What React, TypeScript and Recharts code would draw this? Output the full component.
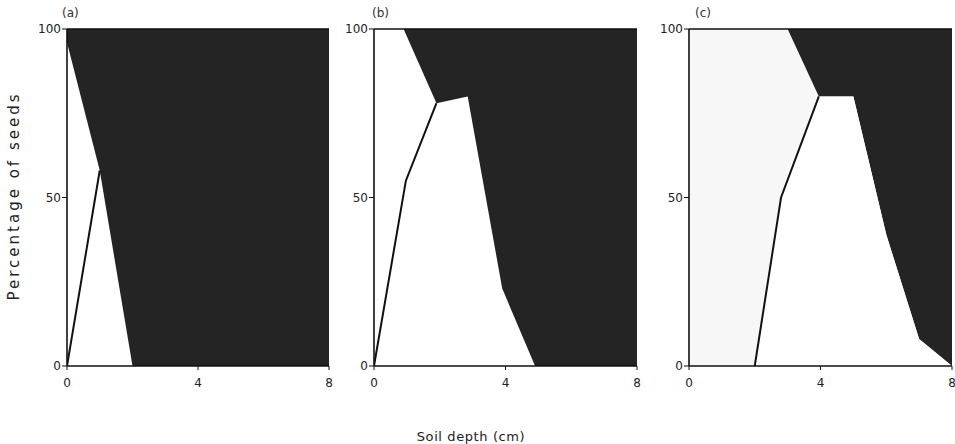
import { ComposedChart, Area, Line, XAxis, YAxis, ReferenceLine } from "recharts";

// depth ticks (cm) and percentage ticks
const ticksX = [0, 4, 8];
const ticksY = [0, 50, 100];

// (a) dark region lower edge and the seed line
const aDarkX = [0, 1, 2, 8];
const aDarkY = [96, 58, 0, 0];
const aLineX = [0, 1];
const aLineY = [0, 58];

// (b)
const bDarkX = [0.9, 1.9, 2.85, 3.9, 4.9, 8];
const bDarkY = [100, 78, 80, 23, 0, 0];
const bLineX = [0, 0.97, 1.9];
const bLineY = [0, 55, 78];

// (c)
const cDarkX = [3, 3.95, 5, 6, 7, 8];
const cDarkY = [100, 80, 80, 39, 8, 0];
const cLineX = [2, 2.8, 3.95];
const cLineY = [0, 50, 80];
const cLightX = [0, 8];
const cLightY = [100, 100];

const FONT = "'DejaVu Sans', sans-serif";
const DARK = "#242424";

const zip = (xs: number[], ys: number[]) => xs.map((x, i) => ({ x, y: ys[i] }));

interface PanelProps {
  left: number;
  width: number;
  right: number;
  dark: { x: number; y: number }[];
  line: { x: number; y: number }[];
  light?: { x: number; y: number }[];
  white?: { x: number; y: number }[];
}

function Panel({ left, width, right, dark, line, light, white }: PanelProps) {
  const tick = { fill: "#222", fontSize: 12, fontFamily: FONT };
  return (
    <div style={{ position: "absolute", left, top: 0 }}>
      <ComposedChart width={width} height={444} margin={{ top: 29, right, bottom: 48, left: 0 }}>
        <XAxis
          type="number"
          dataKey="x"
          domain={[0, 8]}
          ticks={ticksX}
          allowDataOverflow
          height={30}
          tick={tick}
          tickSize={4}
          tickMargin={8}
          axisLine={{ stroke: "#111", strokeWidth: 1.6 }}
          tickLine={{ stroke: "#111" }}
        />
        <YAxis
          type="number"
          domain={[0, 100]}
          ticks={ticksY}
          allowDataOverflow
          width={35}
          tick={tick}
          tickSize={5}
          tickMargin={1}
          axisLine={{ stroke: "#111", strokeWidth: 1.6 }}
          tickLine={{ stroke: "#111" }}
        />
        {light && (
          <Area data={light} dataKey="y" type="linear" baseValue={0} fill="#f7f7f7" fillOpacity={1} stroke="none" isAnimationActive={false} />
        )}
        <Area data={dark} dataKey="y" type="linear" baseValue={100} fill={DARK} fillOpacity={1} stroke="none" isAnimationActive={false} />
        {white && (
          <Area data={white} dataKey="y" type="linear" baseValue={0} fill="#ffffff" fillOpacity={1} stroke="none" isAnimationActive={false} />
        )}
        <Line data={line} dataKey="y" type="linear" stroke="#111" strokeWidth={2} dot={false} isAnimationActive={false} />
        <ReferenceLine y={100} stroke="#111" strokeWidth={1.6} />
      </ComposedChart>
    </div>
  );
}

const label = (text: string, left: number, top: number) => (
  <div style={{ position: "absolute", left, top, fontFamily: FONT, fontSize: 12, color: "#333" }}>{text}</div>
);

export default function App() {
  const cWhite = [...zip(cLineX, cLineY), ...zip(cDarkX, cDarkY).slice(2)];
  return (
    <div style={{ position: "absolute", left: 0, top: 0, width: 955, height: 444, background: "#fff", overflow: "hidden" }}>
      <Panel left={32} width={307} right={10} dark={zip(aDarkX, aDarkY)} line={zip(aLineX, aLineY)} />
      <Panel left={339} width={308} right={10} dark={zip(bDarkX, bDarkY)} line={zip(bLineX, bLineY)} />
      <Panel
        left={654}
        width={301}
        right={3}
        dark={zip(cDarkX, cDarkY)}
        line={zip(cLineX, cLineY)}
        light={zip(cLightX, cLightY)}
        white={cWhite}
      />
      {label("(a)", 62, 6)}
      {label("(b)", 372, 6)}
      {label("(c)", 695, 6)}
      <div
        style={{
          position: "absolute",
          left: 14,
          top: 196,
          transform: "translate(-50%, -50%) rotate(-90deg)",
          whiteSpace: "nowrap",
          fontFamily: FONT,
          fontSize: 15,
          letterSpacing: 3,
          color: "#222",
        }}
      >
        Percentage of seeds
      </div>
      <div
        style={{
          position: "absolute",
          left: 471,
          top: 436,
          transform: "translate(-50%, -50%)",
          whiteSpace: "nowrap",
          fontFamily: FONT,
          fontSize: 13,
          letterSpacing: 0.6,
          color: "#222",
        }}
      >
        Soil depth (cm)
      </div>
    </div>
  );
}
